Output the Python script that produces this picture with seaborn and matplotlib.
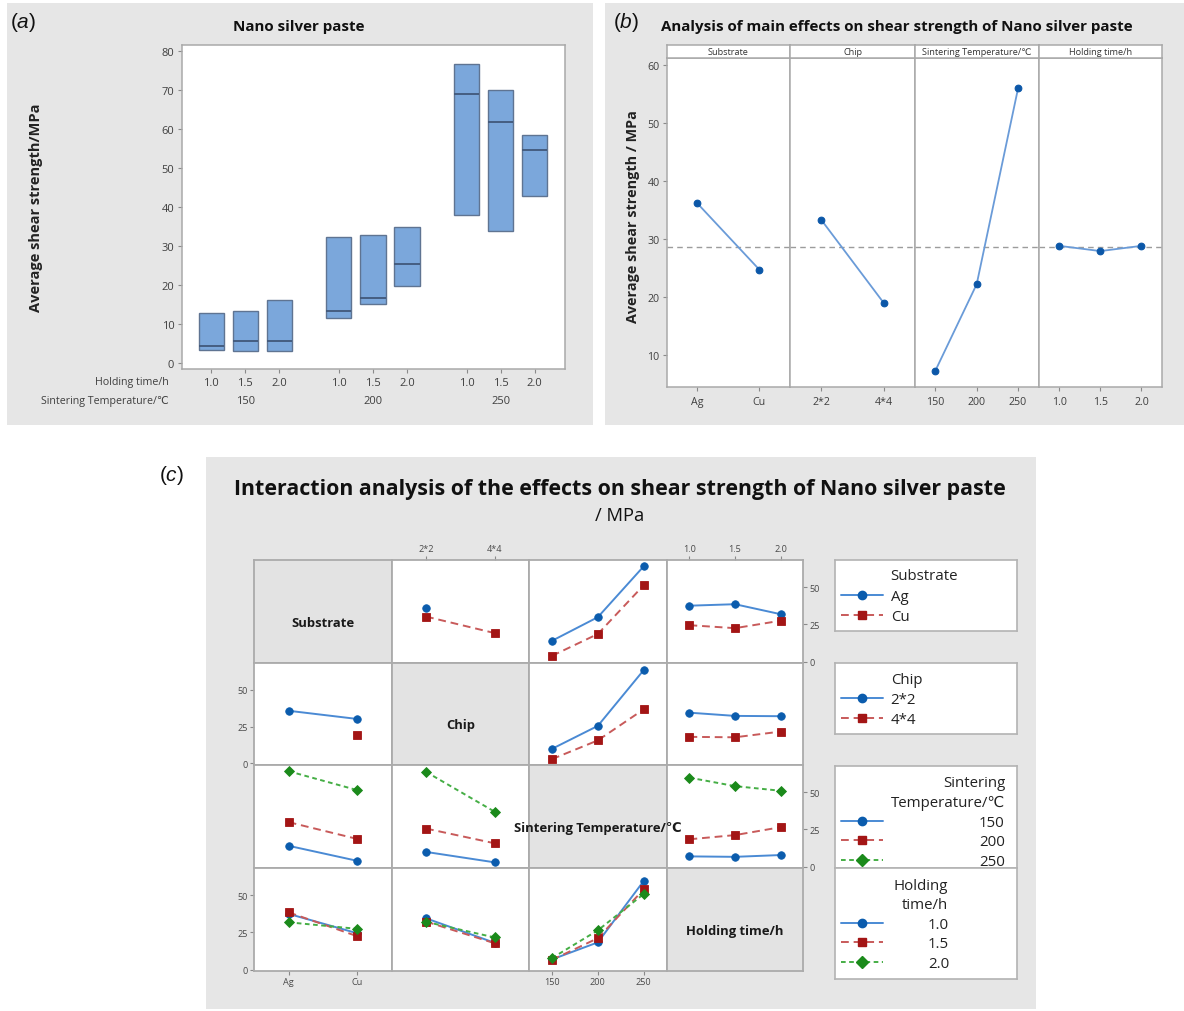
import numpy as np
import pandas as pd
import matplotlib
matplotlib.use("Agg")
import matplotlib.pyplot as plt
import seaborn as sns
from matplotlib.lines import Line2D
from matplotlib.patches import Rectangle
from matplotlib.transforms import blended_transform_factory
from matplotlib.colors import to_hex

# ---------------- data ----------------
TEMP_LEVELS = ["150", "200", "250"]
HOLD_LEVELS = ["1.0", "1.5", "2.0"]
SUB_LEVELS = ["Ag", "Cu"]
CHIP_LEVELS = ["2*2", "4*4"]
FACTORS = ["Substrate", "Chip", "Sintering Temperature/℃", "Holding time/h"]

# (a) boxes, order: 150 (1.0, 1.5, 2.0), 200 (...), 250 (...)
A_LOW = [3.4, 3.2, 3.1, 11.7, 15.1, 19.9, 38.0, 33.9, 43.0]
A_MEDIAN = [4.5, 5.6, 5.6, 13.4, 16.8, 25.4, 69.0, 61.8, 54.6]
A_HIGH = [12.8, 13.4, 16.2, 32.3, 33.0, 35.0, 76.8, 70.2, 58.5]

# (b) main effects
B_SUB = [36.1, 24.7]
B_CHIP = [33.25, 19.0]
B_TEMP = [7.3, 22.2, 55.9]
B_HOLD = [28.8, 27.9, 28.8]
B_GRAND_MEAN = 28.55

# (c) two-way interaction means (rows: first factor, cols: second factor)
nan = np.nan
SUB_CHIP = [[35.8, nan], [30.2, 19.1]]
SUB_TEMP = [[13.9, 29.8, 64.0], [3.8, 18.5, 51.3]]
SUB_HOLD = [[37.5, 38.5, 31.8], [24.4, 22.4, 27.4]]
CHIP_TEMP = [[9.8, 25.5, 63.6], [2.8, 15.6, 36.8]]
CHIP_HOLD = [[34.5, 32.3, 32.1], [18.0, 17.7, 21.6]]
TEMP_HOLD = [[6.8, 6.5, 7.7], [18.3, 21.1, 26.4], [59.7, 54.0, 50.9]]

# ---------------- style ----------------
sns.set_theme(style="white")
FONT = ["Open Sans", "DejaVu Sans"]
plt.rcParams["font.family"] = FONT
plt.rcParams["mathtext.fontset"] = "custom"
plt.rcParams["mathtext.rm"] = "Liberation Sans"
plt.rcParams["mathtext.it"] = "Liberation Sans:italic"

W, H = 1184, 1012
fig = plt.figure(figsize=(W / 100, H / 100), dpi=100)
fig.patch.set_facecolor("white")


def rect(x0, y0, x1, y1):
    return [x0 / W, 1 - y1 / H, (x1 - x0) / W, (y1 - y0) / H]


def fx(x):
    return x / W


def fy(y):
    return 1 - y / H


PANEL_BG = "#E6E6E6"
SPINE = "#A9A9A9"
TICKC = "#3F3F3F"
for (x0, y0, x1, y1) in [(7, 4, 593, 426), (605, 4, 1184, 426), (206, 458, 1036, 1010)]:
    fig.patches.append(Rectangle((fx(x0), fy(y1)), (x1 - x0) / W, (y1 - y0) / H,
                                 transform=fig.transFigure, facecolor=PANEL_BG,
                                 edgecolor="none", zorder=-5))


def style_spines(ax, color=SPINE, lw=1.1):
    for s in ax.spines.values():
        s.set_visible(True)
        s.set_color(color)
        s.set_linewidth(lw)


# ---------------- panel (a) ----------------
rows = []
k = 0
for t in TEMP_LEVELS:
    for h in HOLD_LEVELS:
        lo, me, hi = A_LOW[k], A_MEDIAN[k], A_HIGH[k]
        for v in (lo, lo, me, hi, hi):
            rows.append({"temp": t, "hold": h, "val": v})
        k += 1
dfa = pd.DataFrame(rows)

axa = fig.add_axes(rect(182, 45.7, 564.5, 370))
axa.set_facecolor("white")
BOX_FILL = "#7BA7DB"
sns.boxplot(data=dfa, x="temp", y="val", hue="hold", order=TEMP_LEVELS,
            hue_order=HOLD_LEVELS, palette=[BOX_FILL] * 3, saturation=1,
            whis=0, showcaps=False, showfliers=False, gap=0.26, width=0.8,
            linewidth=1.0, linecolor="#5F7492",
            medianprops=dict(color="#41587A", linewidth=1.3),
            legend=False, ax=axa)
axa.set_xlim(-0.495, 2.5)
axa.set_ylim(-1.46, 81.7)
axa.set_yticks(np.arange(0, 81, 10))
offs = (np.arange(3) - 1) * 0.8 / 3
xt = [i + o for i in range(3) for o in offs]
axa.set_xticks(xt)
axa.set_xticklabels(HOLD_LEVELS * 3)
axa.set_xlabel("")
axa.set_ylabel("")
style_spines(axa)
axa.tick_params(axis="both", direction="out", length=3, width=0.8, color="#8A8A8A",
                labelsize=8, labelcolor=TICKC, pad=2.5, bottom=True, left=True)
tr = blended_transform_factory(axa.transData, fig.transFigure)
for i, t in enumerate(TEMP_LEVELS):
    axa.text(i, fy(401.7), t, transform=tr, ha="center", va="center",
             fontsize=8, color=TICKC)
fig.text(fx(169), fy(382.7), "Holding time/h", ha="right", va="center",
         fontsize=7.7, color=TICKC)
fig.text(fx(169), fy(401.7), "Sintering Temperature/℃", ha="right", va="center",
         fontsize=7.7, color=TICKC)
fig.text(fx(36), fy(208), "Average shear strength/MPa", rotation=90, ha="center",
         va="center", fontsize=10.5, fontweight="bold", color="#222222")
fig.text(fx(299), fy(26.7), "Nano silver paste", ha="center", va="center",
         fontsize=10.9, fontweight="bold", color="#111111")
fig.text(fx(10), fy(22), r"$(a)$", ha="left", va="center", fontsize=15, color="#111111")

# ---------------- panel (b) ----------------
B_LINE = "#6A9BD8"
B_MARK = "#0B57A8"
b_edges = [666.5, 790.3, 914.7, 1038.7, 1162]
b_levels = [SUB_LEVELS, CHIP_LEVELS, TEMP_LEVELS, HOLD_LEVELS]
b_vals = [B_SUB, B_CHIP, B_TEMP, B_HOLD]
for p in range(4):
    ax = fig.add_axes(rect(b_edges[p], 59.3, b_edges[p + 1], 388.3))
    ax.set_facecolor("white")
    sns.pointplot(x=b_levels[p], y=b_vals[p], order=b_levels[p], color=B_MARK,
                  markers="o", linestyles="-", errorbar=None, linewidth=1.3,
                  markersize=4.8, markeredgewidth=0.8, ax=ax)
    for ln in ax.lines:
        ln.set_markerfacecolor(B_MARK)
        ln.set_markeredgecolor(B_MARK)
        ln.set_color(B_LINE)
    ax.axhline(B_GRAND_MEAN, color="#9C9C9C", lw=1.0, ls=(0, (4, 3)), zorder=0)
    n = len(b_levels[p])
    ax.set_xlim(-0.5, n - 0.5)
    ax.set_ylim(4.44, 61.1)
    ax.set_yticks(np.arange(10, 61, 10))
    ax.set_xlabel("")
    ax.set_ylabel("")
    style_spines(ax)
    ax.tick_params(axis="x", direction="out", length=3, width=0.8, color="#8A8A8A",
                   labelsize=7.7, labelcolor=TICKC, pad=3.5, bottom=True)
    if p == 0:
        ax.tick_params(axis="y", direction="out", length=3, width=0.8, color="#8A8A8A",
                       labelsize=7.7, labelcolor=TICKC, pad=2, left=True)
    else:
        ax.tick_params(axis="y", left=False, labelleft=False)
    sax = fig.add_axes(rect(b_edges[p], 46, b_edges[p + 1], 59.3))
    sax.set_facecolor("white")
    sax.set_xticks([])
    sax.set_yticks([])
    style_spines(sax)
    sax.text(0.5, 0.5, FACTORS[p], transform=sax.transAxes, ha="center", va="center",
             fontsize=6.6, color="#333333")
fig.text(fx(633.5), fy(217), "Average shear strength / MPa", rotation=90, ha="center",
         va="center", fontsize=10.4, fontweight="bold", color="#222222")
fig.text(fx(897), fy(26.7), "Analysis of main effects on shear strength of Nano silver paste",
         ha="center", va="center", fontsize=10.9, fontweight="bold", color="#111111")
fig.text(fx(613), fy(22), r"$(b)$", ha="left", va="center", fontsize=15, color="#111111")

# ---------------- panel (c) ----------------
levels = [SUB_LEVELS, CHIP_LEVELS, TEMP_LEVELS, HOLD_LEVELS]
pair = {(0, 1): SUB_CHIP, (0, 2): SUB_TEMP, (0, 3): SUB_HOLD,
        (1, 2): CHIP_TEMP, (1, 3): CHIP_HOLD, (2, 3): TEMP_HOLD}
DARK = ["#0B5CAD", "#A31515", "#1B8A1B"]
LIGHT = ["#4A8AD4", "#C85A5A", "#45AE45"]
MARKERS = ["o", "s", "D"]
MSIZE = [5.4, 5.2, 5.6]
LSTYLES = ["-", (0, (4, 2.5)), (0, (2.4, 1.8))]
col_x = [254.3, 391.7, 529.0, 666.7, 803.3]
row_y = [560.7, 664.0, 765.7, 869.0, 972.0]
CELL_GRAY = "#E3E3E3"

for i in range(4):
    for j in range(4):
        ax = fig.add_axes(rect(col_x[j], row_y[i], col_x[j + 1], row_y[i + 1]))
        style_spines(ax, color="#ABABAB", lw=1.3)
        if i == j:
            ax.set_facecolor(CELL_GRAY)
            ax.set_xticks([])
            ax.set_yticks([])
            fig.text(fx((col_x[j] + col_x[j + 1]) / 2), fy((row_y[i] + row_y[i + 1]) / 2 + 11),
                     FACTORS[i], ha="center", va="center", fontsize=9.4,
                     fontweight="bold", color="#1A1A1A", zorder=10)
            continue
        ax.set_facecolor("white")
        tab = np.array(pair[(i, j)]) if i < j else np.array(pair[(j, i)]).T
        recs = []
        for a, hl in enumerate(levels[i]):
            for b, xl in enumerate(levels[j]):
                if not np.isnan(tab[a, b]):
                    recs.append({"x": xl, "y": tab[a, b], "hue": hl})
        df = pd.DataFrame(recs)
        nh = len(levels[i])
        sns.pointplot(data=df, x="x", y="y", hue="hue", order=levels[j],
                      hue_order=levels[i], palette=DARK[:nh], markers=MARKERS[:nh],
                      linestyles=LSTYLES[:nh], errorbar=None, legend=False,
                      linewidth=1.4, markersize=5.0, markeredgewidth=0.6, ax=ax)
        dark_hex = [to_hex(c) for c in DARK]
        for ln in ax.lines:
            c = to_hex(ln.get_color())
            if c in dark_hex:
                idx = dark_hex.index(c)
                ln.set_markerfacecolor(DARK[idx])
                ln.set_markeredgecolor(DARK[idx])
                ln.set_markersize(MSIZE[idx])
                ln.set_color(LIGHT[idx])
        ax.set_xlim(-0.5, len(levels[j]) - 0.5)
        ax.set_ylim(-1.0, 68.4)
        ax.set_xlabel("")
        ax.set_ylabel("")
        ax.set_yticks([0, 25, 50])
        tick_kw = dict(direction="out", length=3, width=0.8, color="#8A8A8A",
                       labelsize=6.6, labelcolor="#4A4A4A", pad=1.5)
        # y ticks
        ax.tick_params(axis="y", left=False, right=False, labelleft=False, labelright=False)
        if j == 3 and i in (0, 2):
            ax.tick_params(axis="y", right=True, labelright=True, **tick_kw)
        if j == 0 and i in (1, 3):
            ax.tick_params(axis="y", left=True, labelleft=True, **tick_kw)
        # x ticks
        ax.tick_params(axis="x", bottom=False, top=False, labelbottom=False, labeltop=False)
        if i == 0 and j in (1, 3):
            ax.tick_params(axis="x", top=True, labeltop=True, **tick_kw)
        if i == 3 and j in (0, 2):
            ax.tick_params(axis="x", bottom=True, labelbottom=True, **tick_kw)

# legends of (c)
LEG_FS = 10.8
boxes = [(560.7, 631.7), (664.0, 735.0), (766.7, 869.0), (869.0, 980.0)]
for (y0, y1) in boxes:
    lax = fig.add_axes(rect(835, y0, 1016.7, y1))
    lax.set_facecolor("white")
    lax.set_xticks([])
    lax.set_yticks([])
    style_spines(lax, color="#B3B3B3", lw=1.2)


def handle(k):
    return Line2D([], [], color=LIGHT[k], ls=LSTYLES[k], lw=1.4, marker=MARKERS[k],
                  markersize=MSIZE[k] + 0.6, markerfacecolor=DARK[k], markeredgecolor=DARK[k])


def leg_entry(k, label, y, x_text):
    hl = 42.0 / (LEG_FS * 100 / 72)
    pad = (x_text - 882.7) / (LEG_FS * 100 / 72)
    fig.legend(handles=[handle(k)], labels=[label], loc="center left",
               bbox_to_anchor=(fx(840.7), fy(y)), frameon=False, handlelength=hl,
               handletextpad=pad, borderpad=0, borderaxespad=0,
               fontsize=LEG_FS, labelcolor="#222222")


fig.text(fx(890.7), fy(576.7), "Substrate", ha="left", va="center", fontsize=LEG_FS, color="#222222")
leg_entry(0, "Ag", 597.3, 890.7)
leg_entry(1, "Cu", 617.3, 890.7)
fig.text(fx(890.7), fy(681), "Chip", ha="left", va="center", fontsize=LEG_FS, color="#222222")
leg_entry(0, "2*2", 701, 890.7)
leg_entry(1, "4*4", 720.7, 890.7)
fig.text(fx(1005), fy(784), "Sintering", ha="right", va="center", fontsize=LEG_FS, color="#222222")
fig.text(fx(1005), fy(803.3), "Temperature/℃", ha="right", va="center", fontsize=LEG_FS, color="#222222")
for k, lab in enumerate(TEMP_LEVELS):
    leg_entry(k, lab, [823.3, 842.7, 862.3][k], 979.0)
fig.text(fx(948.3), fy(886.7), "Holding", ha="right", va="center", fontsize=LEG_FS, color="#222222")
fig.text(fx(948.3), fy(905.7), "time/h", ha="right", va="center", fontsize=LEG_FS, color="#222222")
for k, lab in enumerate(HOLD_LEVELS):
    leg_entry(k, lab, [925.7, 944.3, 964.3][k], 928.0)

fig.text(fx(620), fy(490), "Interaction analysis of the effects on shear strength of Nano silver paste",
         ha="center", va="center", fontsize=15.4, fontweight="bold", color="#111111")
fig.text(fx(620), fy(516), "/ MPa", ha="center", va="center", fontsize=13.2, color="#111111")
fig.text(fx(159), fy(476), r"$(c)$", ha="left", va="center", fontsize=15, color="#111111")

fig.savefig("out.png", dpi=100, facecolor="white")
